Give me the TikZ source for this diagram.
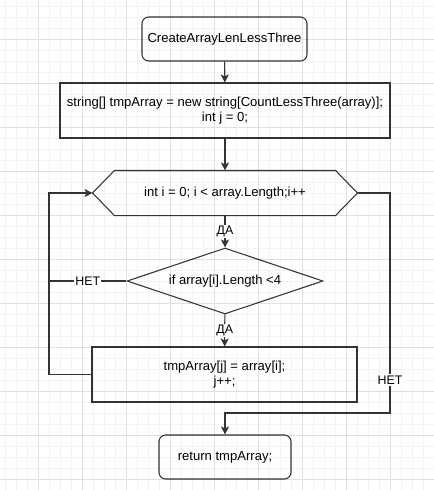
\documentclass[tikz,border=0pt]{standalone}
\usepackage{fontspec}
\setmainfont{Liberation Sans}
\usetikzlibrary{calc,shapes.geometric,arrows.meta}

\definecolor{minorgrid}{HTML}{F3F3F3}
\definecolor{majorgrid}{HTML}{E0E0E0}
\definecolor{edge}{HTML}{333333}

\tikzset{
  box/.style={draw=edge, line width=0.8pt, align=center, inner sep=0pt, font=\fontsize{9.8}{11.25}\selectfont},
  terminal/.style={box, rounded corners=5pt, minimum width=123.75pt, minimum height=33pt},
  process/.style={box, minimum height=41.25pt},
  decision/.style={box, diamond, aspect=3, minimum width=147pt, minimum height=49.5pt},
  flow/.style={draw=edge, line width=0.8pt, -{Stealth[length=6pt,width=6pt,inset=1.5pt]}},
  link/.style={draw=edge, line width=0.8pt},
  answer/.style={fill=white, inner sep=1pt, font=\fontsize{9.3}{10}\selectfont},
}

\begin{document}
\begin{tikzpicture}[x=0.75pt,y=-0.75pt]
\useasboundingbox (0,0) rectangle (434,490);

% Draw background grid
\foreach \i in {0,...,39} {
  \draw[minorgrid, line width=0.75pt] (5.5+11*\i,0) -- (5.5+11*\i,490);
}
\foreach \j in {0,...,44} {
  \draw[minorgrid, line width=0.75pt] (0,6.5+11*\j) -- (434,6.5+11*\j);
}
\foreach \i in {0,...,9} {
  \draw[majorgrid, line width=0.75pt] (38.5+44*\i,0) -- (38.5+44*\i,490);
}
\foreach \j in {0,...,10} {
  \draw[majorgrid, line width=0.75pt] (0,39.5+44*\j) -- (434,39.5+44*\j);
}

% Blocks
\node[terminal] (start) at (224.5,39) {CreateArrayLenLessThree};
\node[process, minimum width=247.5pt] (init) at (225,110.5) {string[] tmpArray = new string[CountLessThree(array)];\\ int j = 0;};
\node[box, draw=none, minimum width=198pt, minimum height=33pt] (loop) at (225,193) {int i = 0; i < array.Length;i++};
\draw[link] (loop.west) -- ($(loop.north west)+(22,0)$) -- ($(loop.north east)+(-22,0)$) -- (loop.east)
  -- ($(loop.south east)+(-22,0)$) -- ($(loop.south west)+(22,0)$) -- cycle;
\node[decision] (check) at (225,281) {if array[i].Length <4};
\node[process, minimum width=198.75pt] (store) at (224.5,374.5) {tmpArray[j] = array[i];\\ j++;};
\node[terminal, minimum width=99pt] (finish) at (225,457) {return tmpArray;};

% Corners
\coordinate (loopback) at (49,193);
\coordinate (exitcorner) at (390,413);

% Arrows
\draw[flow] (start) -- (init);
\draw[flow] (init) -- (loop);
\draw[flow] (loop) -- node[answer]{ДА} (check);
\draw[flow] (check) -- node[answer]{ДА} (store);
\draw[flow] (store.west) -| (loopback) -- (loop.west);
\draw[link] (check.west) -- node[answer]{НЕТ} (check.west -| loopback);
\draw[flow] (loop.east) -| node[answer, pos=0.925]{НЕТ} (exitcorner) -| (finish.north);

\end{tikzpicture}
\end{document}
